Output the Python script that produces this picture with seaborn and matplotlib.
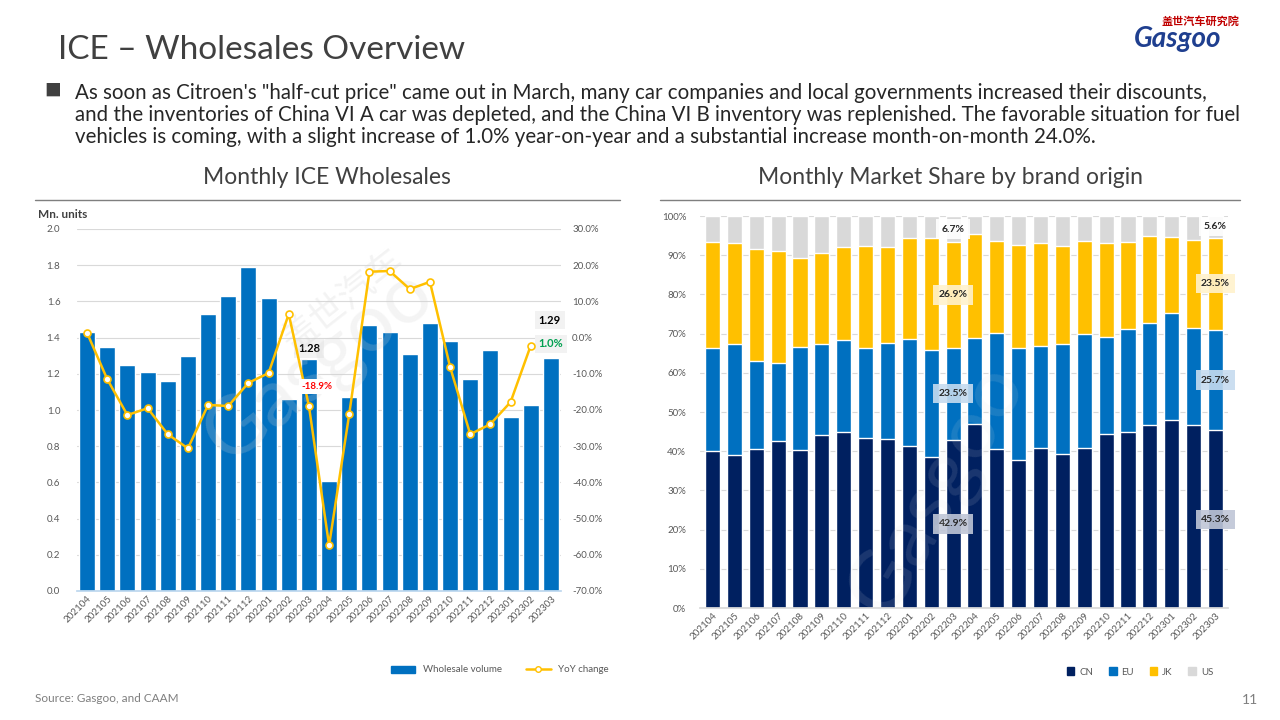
import matplotlib
matplotlib.use("Agg")
import matplotlib.pyplot as plt
import numpy as np
import pandas as pd
import seaborn as sns
from matplotlib.patches import Patch
from matplotlib.lines import Line2D

sns.set_theme(style="white")
plt.rcParams['font.family'] = ['Lato', 'Noto Sans CJK SC', 'DejaVu Sans']

# -------------------------------------------------------------------
# DATA
# -------------------------------------------------------------------
months = ['202104', '202105', '202106', '202107', '202108', '202109', '202110', '202111',
          '202112', '202201', '202202', '202203', '202204', '202205', '202206', '202207',
          '202208', '202209', '202210', '202211', '202212', '202301', '202302', '202303']

# wholesale volume, Mn. units
wholesale = [1.43, 1.35, 1.25, 1.21, 1.16, 1.30, 1.53, 1.63, 1.79, 1.62, 1.06, 1.28,
             0.61, 1.07, 1.47, 1.43, 1.31, 1.48, 1.38, 1.17, 1.33, 0.96, 1.03, 1.29]

# YoY change, % (the line in the source stops one month early)
yoy = [1.3, -11.5, -21.4, -19.5, -26.7, -30.6, -18.6, -18.9, -12.5, -9.8, 6.5, -18.9,
       -57.4, -21.1, 18.2, 18.4, 13.4, 15.4, -8.1, -26.7, -23.9, -17.8, -2.2]

# market share by brand origin, %
share_cn = [40.1, 39.0, 40.6, 42.6, 40.3, 44.1, 44.9, 43.4, 43.1, 41.3, 38.5, 42.9,
            46.9, 40.5, 37.8, 40.8, 39.3, 40.8, 44.4, 44.9, 46.7, 48.0, 46.7, 45.3]
share_eu = [26.2, 28.3, 22.4, 19.9, 26.3, 23.2, 23.5, 22.9, 24.5, 27.3, 27.3, 23.5,
            22.0, 29.7, 28.5, 26.0, 28.0, 29.1, 24.7, 26.3, 26.0, 27.3, 24.7, 25.7]
share_jk = [27.1, 25.8, 28.6, 28.6, 22.7, 23.3, 23.7, 26.0, 24.5, 25.8, 28.6, 26.9,
            26.5, 23.4, 26.3, 26.3, 25.0, 23.7, 24.0, 22.2, 22.2, 19.3, 22.5, 23.5]
share_us = [6.6, 6.9, 8.4, 8.9, 10.7, 9.4, 7.9, 7.7, 7.9, 5.6, 5.6, 6.7,
            4.6, 6.4, 7.4, 6.9, 7.7, 6.4, 6.9, 6.6, 5.1, 5.4, 6.1, 5.6]

brands = ['CN', 'EU', 'JK', 'US']
brand_colors = ['#002060', '#0070C0', '#FFC000', '#D9D9D9']

BLUE = '#0070C0'
YELLOW = '#FFC000'
TXT = '#404040'
TICK = '#595959'
GRID = '#D9D9D9'

df = pd.DataFrame({'month': months, 'volume': wholesale})
share = pd.DataFrame({'month': months, 'CN': share_cn, 'EU': share_eu,
                      'JK': share_jk, 'US': share_us})

# -------------------------------------------------------------------
# FIGURE / HEADER
# -------------------------------------------------------------------
fig = plt.figure(figsize=(12.8, 7.2), dpi=100)
W, H = 1280, 720


def fx(px):
    return px / W


def fy(py):
    return 1 - py / H


fig.text(fx(58), fy(50), 'ICE – Wholesales Overview', fontsize=24, color=TXT,
         va='center', ha='left')
fig.text(fx(53), fy(91), '■', fontsize=12, color=TXT, va='center', ha='center')
body = ('As soon as Citroen\'s "half-cut price" came out in March, many car companies and local governments increased their discounts,\n'
        'and the inventories of China VI A car was depleted, and the China VI B inventory was replenished. The favorable situation for fuel\n'
        'vehicles is coming, with a slight increase of 1.0% year-on-year and a substantial increase month-on-month 24.0%.')
fig.text(fx(75), fy(83), body, fontsize=14.8, color='#262626', va='top', ha='left',
         linespacing=1.13)

# logo
fig.text(fx(1200), fy(21), '盖世汽车研究院', fontsize=8, color='#C00000',
         family=['Noto Sans CJK SC'], ha='center', va='center', fontweight='bold')
fig.text(fx(1178), fy(39), 'Gasgoo', fontsize=20, color='#1F3F8F', ha='center',
         va='center', fontweight='bold', style='italic')

# section titles and rules
fig.text(fx(327), fy(177), 'Monthly ICE Wholesales', fontsize=16.5, color=TXT,
         ha='center', va='center')
fig.text(fx(951), fy(177), 'Monthly Market Share by brand origin', fontsize=16.5,
         color=TXT, ha='center', va='center')
fig.add_artist(Line2D([fx(35), fx(620)], [fy(200), fy(200)], color='#7F7F7F', lw=1))
fig.add_artist(Line2D([fx(660), fx(1240)], [fy(200), fy(200)], color='#7F7F7F', lw=1))

fig.text(fx(35), fy(698), 'Source: Gasgoo, and CAAM', fontsize=8.5, color='#7F7F7F',
         va='center')
fig.text(fx(1250), fy(700), '11', fontsize=10, color='#7F7F7F', va='center', ha='center')

# -------------------------------------------------------------------
# LEFT: wholesale volume + YoY
# -------------------------------------------------------------------
ax1 = fig.add_axes([fx(77), fy(591), fx(484), (591 - 229) / H])
sns.barplot(data=df, x='month', y='volume', color=BLUE, width=0.8, saturation=1,
            ax=ax1, zorder=2)
ax1.set_xlim(-0.5, 23.5)
ax1.set_ylim(0, 2.0)
ax1.set_yticks(np.arange(0, 2.01, 0.2))
ax1.set_yticklabels([f'{v:.1f}' for v in np.arange(0, 2.01, 0.2)])
ax1.grid(axis='y', color=GRID, lw=0.8, zorder=0)
ax1.set_axisbelow(True)
ax1.set_xlabel('')
ax1.set_ylabel('')
for s in ['top', 'right', 'left']:
    ax1.spines[s].set_visible(False)
ax1.spines['bottom'].set_color('#BDD7EE')
ax1.tick_params(axis='y', labelsize=7, colors=TICK, length=0, pad=12)
ax1.tick_params(axis='x', labelsize=7, colors=TICK, length=0, pad=2)
plt.setp(ax1.get_xticklabels(), rotation=45, ha='right', rotation_mode='anchor')

ax2 = ax1.twinx()
sns.lineplot(x=np.arange(len(yoy)), y=yoy, color=YELLOW, lw=1.8, marker='o',
             markersize=5, markerfacecolor='white', markeredgecolor=YELLOW,
             markeredgewidth=1.2, ax=ax2, zorder=3)
ax2.set_ylim(-70, 30)
ax2.set_yticks(np.arange(-70, 31, 10))
ax2.set_yticklabels([f'{v:.1f}%' for v in np.arange(-70, 31, 10)])
for s in ['top', 'right', 'left', 'bottom']:
    ax2.spines[s].set_visible(False)
ax2.tick_params(axis='y', labelsize=7, colors=TICK, length=0, pad=8)
ax2.set_xlim(-0.5, 23.5)

fig.text(fx(38), fy(214), 'Mn. units', fontsize=8.5, fontweight='bold', color=TXT,
         ha='left', va='center')

# labels
i = months.index('202203')
ax1.annotate(f'{wholesale[i]:.2f}', (i, wholesale[i]), xytext=(0, 4),
             textcoords='offset points', ha='center', va='bottom', fontsize=8,
             fontweight='bold', color='black', zorder=5,
             bbox=dict(boxstyle='square,pad=0.35', fc='#F2F2F2', ec='none'))
ax2.annotate(f'{yoy[i]:.1f}%', (i, yoy[i]), xytext=(6, 14),
             textcoords='offset points', ha='center', va='center', fontsize=7,
             fontweight='bold', color='#FF0000', zorder=5,
             bbox=dict(boxstyle='square,pad=0.3', fc='white', ec='none'))
j = months.index('202303')
ax1.annotate(f'{wholesale[j]:.2f}', (j, wholesale[j]), xytext=(-1, 23),
             textcoords='offset points', ha='center', va='bottom', fontsize=8,
             fontweight='bold', color='black', zorder=5,
             bbox=dict(boxstyle='square,pad=0.35', fc='#F2F2F2', ec='none'))
ax1.annotate('1.0%', (j, wholesale[j]), xytext=(0, 6),
             textcoords='offset points', ha='center', va='bottom', fontsize=8,
             fontweight='bold', color='#00A050', zorder=5,
             bbox=dict(boxstyle='square,pad=0.3', fc='#F2F2F2', ec='none'))

# watermark
ax1.text(0.55, 0.8, '盖世汽车', transform=ax1.transAxes, fontsize=26, rotation=38,
         color='#D0D0D0', alpha=0.25, ha='center', va='center',
         family=['Noto Sans CJK SC'], zorder=6)
ax1.text(0.5, 0.62, 'Gasgoo', transform=ax1.transAxes, fontsize=58, rotation=38,
         color='#D0D0D0', alpha=0.22, ha='center', va='center', zorder=6)

fig.legend(handles=[Patch(color=BLUE, label='Wholesale volume'),
                    Line2D([0], [0], color=YELLOW, lw=1.8, marker='o', markersize=4,
                           markerfacecolor='white', markeredgecolor=YELLOW,
                           label='YoY change')],
           loc='center', bbox_to_anchor=(fx(500), fy(670)), ncol=2, frameon=False,
           fontsize=7, labelcolor=TICK, handlelength=2.5, columnspacing=2.5)

# -------------------------------------------------------------------
# RIGHT: stacked market share
# -------------------------------------------------------------------
ax3 = fig.add_axes([fx(700), fy(608), fx(528), (608 - 216) / H])
cum = share[brands].cumsum(axis=1)
for b, c in reversed(list(zip(brands, brand_colors))):
    sns.barplot(x=share['month'], y=cum[b], color=c, width=0.69, saturation=1,
                ax=ax3, zorder=2)
ax3.set_xlim(-0.57, 23.57)
ax3.set_ylim(0, 100)
ax3.set_yticks(np.arange(0, 101, 10))
ax3.set_yticklabels([f'{v}%' for v in range(0, 101, 10)])
ax3.grid(axis='y', color=GRID, lw=0.8, zorder=0)
ax3.set_axisbelow(True)
ax3.set_xlabel('')
ax3.set_ylabel('')
for s in ['top', 'right', 'left']:
    ax3.spines[s].set_visible(False)
ax3.spines['bottom'].set_color(GRID)
ax3.tick_params(axis='y', labelsize=7, colors=TICK, length=0, pad=10)
ax3.tick_params(axis='x', labelsize=7, colors=TICK, length=0, pad=2)
plt.setp(ax3.get_xticklabels(), rotation=45, ha='right', rotation_mode='anchor')

label_boxes = {'CN': '#BFC6D6', 'EU': '#C6DBEF', 'JK': '#FFF2CC', 'US': '#FFFFFF'}
for k in [months.index('202203'), months.index('202303')]:
    base = 0
    for b in brands:
        v = share.loc[k, b]
        ax3.text(k, base + v / 2, f'{v:.1f}%', ha='center', va='center', fontsize=7.5,
                 fontweight='bold', color='#262626', zorder=5,
                 bbox=dict(boxstyle='square,pad=0.5', fc=label_boxes[b], ec='none',
                           alpha=0.9))
        base += v

ax3.text(0.45, 0.3, 'Gasgoo', transform=ax3.transAxes, fontsize=60, rotation=60,
         color='#E0E0E0', alpha=0.12, ha='center', va='center', zorder=6)

fig.legend(handles=[Patch(color=c, label=b) for b, c in zip(brands, brand_colors)],
           loc='center', bbox_to_anchor=(fx(1140), fy(672)), ncol=4, frameon=False,
           fontsize=7, labelcolor=TICK, handlelength=0.8, handleheight=0.8,
           handletextpad=0.5, columnspacing=1.6)

fig.savefig('out.png', dpi=100, facecolor='white')
